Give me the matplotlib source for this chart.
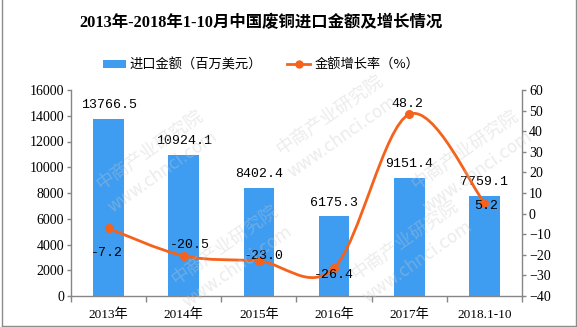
import matplotlib
matplotlib.use("Agg")
import matplotlib.pyplot as plt
from matplotlib.path import Path
from matplotlib.patches import PathPatch, Patch
from matplotlib.lines import Line2D
import numpy as np

plt.rcParams['font.family'] = ['Liberation Serif', 'Noto Sans CJK SC']

# ---- data ----
categories = ["2013年", "2014年", "2015年", "2016年", "2017年", "2018.1-10"]
import_value = [13766.5, 10924.1, 8402.4, 6175.3, 9151.4, 7759.1]   # 百万美元
growth_rate = [-7.2, -20.5, -23.0, -26.4, 48.2, 5.2]                 # %
left_ticks = list(range(0, 16001, 2000))
right_ticks = list(range(-40, 61, 10))

title = "2013年-2018年1-10月中国废铜进口金额及增长情况"
bar_label = "进口金额（百万美元）"
line_label = "金额增长率（%）"
mark_name = "中商产业研究院"
mark_site = "www.chnci.com"

BAR_COLOR = "#3E9DF1"
LINE_COLOR = "#F5621C"
AXIS_COLOR = "#868686"
W, H = 577, 327

fig = plt.figure(figsize=(W / 100, H / 100), dpi=100)
fig.patch.set_facecolor("white")

ax = fig.add_axes([71 / W, 1 - 296 / H, (522 - 71) / W, (296 - 90) / H])
x = np.arange(len(categories))

ax.bar(x, import_value, width=0.41, color=BAR_COLOR, zorder=2)
ax.set_xlim(-0.5, len(categories) - 0.5)
ax.set_ylim(0, 16000)
ax.set_yticks(left_ticks)
ax.set_yticklabels([str(v) for v in left_ticks])

# category boundaries as major ticks, names on minor ticks
ax.set_xticks(np.arange(-0.5, len(categories), 1.0))
ax.set_xticklabels([])
ax.set_xticks(x, minor=True)
ax.set_xticklabels(categories, minor=True)
ax.tick_params(axis="x", which="major", length=4, color=AXIS_COLOR, width=1)
ax.tick_params(axis="x", which="minor", length=0, pad=9, labelsize=9.5)
ax.tick_params(axis="y", length=3, color=AXIS_COLOR, width=1, labelsize=10, pad=2)

for s in ("top", "right"):
    ax.spines[s].set_visible(False)
for s in ("left", "bottom"):
    ax.spines[s].set_color(AXIS_COLOR)
    ax.spines[s].set_linewidth(1)

# value labels above bars
for xi, v in zip(x, import_value):
    ax.annotate(f"{v:.1f}", (xi, v), xytext=(0, 10), textcoords="offset points",
                ha="center", va="center", fontsize=9.5,
                family=["Liberation Mono", "DejaVu Sans Mono"], zorder=5)

# growth rate on secondary axis
ax2 = ax.twinx()
ax2.set_ylim(-40, 60)
ax2.set_yticks(right_ticks)
ax2.set_yticklabels([str(v).replace("-", "\u2212") for v in right_ticks])
ax2.tick_params(axis="y", length=3, color=AXIS_COLOR, width=1, labelsize=10, pad=2)
for s in ("top", "left", "bottom"):
    ax2.spines[s].set_visible(False)
ax2.spines["right"].set_color(AXIS_COLOR)
ax2.spines["right"].set_linewidth(1)

# smoothed curve through the points (cubic Bezier segments)
pts = np.column_stack([x, growth_rate]).astype(float)
verts = [tuple(pts[0])]
codes = [Path.MOVETO]
n = len(pts)
for i in range(n - 1):
    p0 = pts[i - 1] if i > 0 else pts[i]
    p1 = pts[i]
    p2 = pts[i + 1]
    p3 = pts[i + 2] if i + 2 < n else pts[i + 1]
    c1 = p1 + (p2 - p0) / 6.0
    c2 = p2 - (p3 - p1) / 6.0
    verts += [tuple(c1), tuple(c2), tuple(p2)]
    codes += [Path.CURVE4, Path.CURVE4, Path.CURVE4]
curve = PathPatch(Path(verts, codes), facecolor="none", edgecolor=LINE_COLOR,
                  lw=2.0, capstyle="round", joinstyle="round", zorder=3)
ax2.add_patch(curve)
ax2.plot(x, growth_rate, linestyle="none", marker="o", markersize=5.5,
         color=LINE_COLOR, zorder=4)

# rate labels, offsets in pixels
px = 0.72
label_offsets = [(-2, -25), (6, 11), (5, 5), (0, -7), (-2, 10), (2, -3)]
for xi, r, (dx, dy) in zip(x, growth_rate, label_offsets):
    ax2.annotate(f"{r:.1f}", (xi, r), xytext=(dx * px, dy * px), textcoords="offset points",
                 ha="center", va="center", fontsize=9.5,
                 family=["Liberation Mono", "DejaVu Sans Mono"], zorder=6)

# title and legend
fig.text(261 / W, 1 - 23 / H, title, ha="center", va="center", fontsize=11.8,
         fontweight="bold", family=["Liberation Serif", "Noto Sans CJK SC"])
handles = [Patch(facecolor=BAR_COLOR, edgecolor="none"),
           Line2D([], [], color=LINE_COLOR, lw=2, marker="o", markersize=5)]
fig.legend(handles, [bar_label, line_label], loc="center",
           bbox_to_anchor=(261 / W, 1 - 65 / H), ncol=2, frameon=False,
           handlelength=1.75, handleheight=0.6, handletextpad=0.3,
           columnspacing=1.9, prop={"family": ["Noto Sans CJK SC"], "size": 9.5})

# faint diagonal watermark
for wx, wy in ((150, 150), (330, 115), (465, 150), (225, 245), (405, 240)):
    fig.text(wx / W, 1 - wy / H, mark_name, rotation=35, ha="center", va="center",
             fontsize=13, color="#c8c8c8", alpha=0.35, family=["Noto Sans CJK SC"],
             zorder=10)
    fig.text((wx + 12) / W, 1 - (wy + 22) / H, mark_site, rotation=35, ha="center",
             va="center", fontsize=12, color="#c8c8c8", alpha=0.35,
             family=["DejaVu Sans"], zorder=10)

# outer frame
for xs, ys in (([1.5, 1.5], [0, H - 1.5]), ([W - 1.5, W - 1.5], [0, H - 1.5]),
               ([1.5, W - 1.5], [H - 1.5, H - 1.5])):
    fig.add_artist(Line2D([v / W for v in xs], [1 - v / H for v in ys],
                          transform=fig.transFigure, color="#8C8C8C", lw=1))

fig.savefig("out.png", dpi=100)
